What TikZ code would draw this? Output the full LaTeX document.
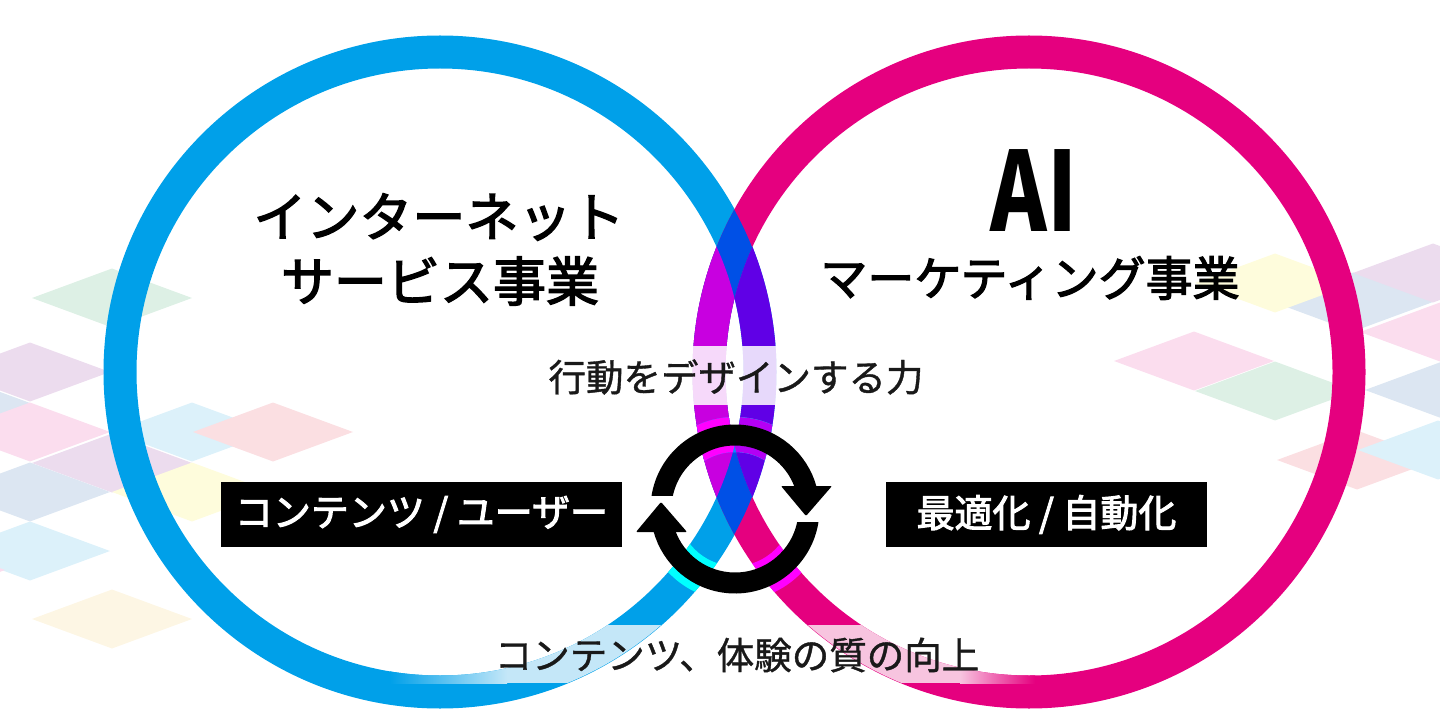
\documentclass[tikz,border=0pt]{standalone}
\usepackage{fontspec}
\usepackage{graphicx}
\setmainfont{Noto Sans CJK JP}
\newfontfamily\headfont[FakeBold=2.6]{Noto Sans CJK JP}
\newfontfamily\subfont[FakeBold=1]{Noto Sans CJK JP}
\usetikzlibrary{positioning}
\definecolor{ringblue}{HTML}{00A0E9}
\definecolor{ringpink}{HTML}{E5007F}
\definecolor{deepblue}{HTML}{0050E6}
\definecolor{armmagenta}{HTML}{C800E0}
\definecolor{armviolet}{HTML}{6000E6}
\definecolor{glowcyan}{HTML}{00FFFF}
\definecolor{glowpink}{HTML}{FF00FF}
\definecolor{glowviolet}{HTML}{B400F4}
\definecolor{glowblue}{HTML}{0090FF}
\definecolor{paleblue}{HTML}{C4E7F8}
\definecolor{palepink}{HTML}{F7C4DF}
\definecolor{dgreen}{HTML}{DDF0E5}
\definecolor{dpurple}{HTML}{ECDCEE}
\definecolor{dslate}{HTML}{DCE6F2}
\definecolor{dpink}{HTML}{FBDDEE}
\definecolor{dsky}{HTML}{DCF1FA}
\definecolor{dsalmon}{HTML}{FBDFE2}
\definecolor{dyellow}{HTML}{FEFCDC}
\definecolor{dcream}{HTML}{FDF6E4}
\newcommand{\fsize}[1]{\fontsize{#1}{#1}\selectfont}
% the two rings and the parts where they meet
\newcommand{\ringbands}[5]{
  \draw[band,#1] (ringl) circle (320);
  \draw[band,#2] (ringr) circle (320);
  \begin{scope}
    \clip (ringl) circle (336);
    \draw[band,#3] (ringr) circle (320);
  \end{scope}
  \begin{scope}
    \clip (ringl) circle (303.5);
    \draw[band,#4] (ringr) circle (320);
  \end{scope}
  \begin{scope}
    \clip (ringr) circle (303.5);
    \draw[band,#5] (ringl) circle (320);
  \end{scope}
}
\tikzset{
  band/.style={line width=33pt},
  turn/.style={line width=21pt,black},
  turnhead/.style={fill=black,rounded corners=1pt},
  headtext/.style={font=\headfont\fsize{53},text=black,inner sep=0pt},
  subtext/.style={font=\subfont\fsize{37.5},text=black!90,inner sep=0pt},
  tagbox/.style={fill=black,text=white,font=\headfont\fsize{38},inner sep=0pt,
    minimum height=65pt}
}
\begin{document}
\begin{tikzpicture}[x=1pt,y=-1pt]
  \useasboundingbox (0,0) rectangle (1440,727);
  % background tiles
  \foreach \x/\y/\c in
    {112/298/dgreen, 30/372/dpurple, -50/403/dslate, 30/432/dpink,
     192/432/dsky, 273/432/dsalmon, 112/463/dpurple, 192/492/dyellow,
     30/492/dslate, 30/551/dsky, 112/619/dcream, -75/570/dpink,
     1353/302/dslate, 1275/283/dyellow, 1433/273/dpurple, 1440/332/dpink,
     1194/361/dpink, 1275/391/dgreen, 1445/390/dslate, 1357/460/dsalmon,
     1438/450/dsky}
  {
    \fill[\c] (\x-80,\y) -- ++(80,-29.5) -- ++(80,29.5) -- ++(-80,29.5) -- cycle;
  }
  \coordinate (ringl) at (440,372);
  \coordinate (ringr) at (1029,372);
  \coordinate (turnc) at (735,509);
  \ringbands{ringblue}{ringpink}{deepblue}{armmagenta}{armviolet}
  % washed out strip behind the middle label
  \fill[white,opacity=.85] (690,346) rectangle (780,405);
  % washed out strips behind the bottom label
  \begin{scope}[even odd rule]
    \clip (ringl) circle (336) (ringl) circle (303.5);
    \shade[left color=ringblue,right color=paleblue] (390,625) rectangle (507,683);
    \fill[paleblue] (507,625) rectangle (700,683);
  \end{scope}
  \begin{scope}[even odd rule]
    \clip (ringr) circle (336) (ringr) circle (303.5);
    \fill[palepink] (750,625) rectangle (960,683);
    \shade[left color=palepink,right color=ringpink] (960,625) rectangle (1035,683);
  \end{scope}
  % glow along the turning arrows
  \begin{scope}[even odd rule]
    \clip (turnc) circle (92) (turnc) circle (57);
    \ringbands{glowcyan}{glowpink}{glowblue}{glowpink}{glowviolet}
  \end{scope}
  % turning arrows
  \begin{scope}
    \clip (640,400) rectangle (840,495);
    \draw[turn] (turnc) ++(185:74) arc[start angle=185,end angle=345,radius=74];
  \end{scope}
  \fill[turnhead] (781,486) -- (832,486) -- (806,516) -- cycle;
  \begin{scope}
    \clip (630,522) rectangle (840,600);
    \draw[turn] (turnc) ++(5:74) arc[start angle=5,end angle=165,radius=74];
  \end{scope}
  \fill[turnhead] (636,532) -- (687,532) -- (661,502) -- cycle;
  % labels
  \node[headtext] (netline) at (439,217) {インターネット};
  \node[headtext] (svcline) at (440,281) {サービス事業};
  \node[inner sep=0pt,font=\bfseries] (ailabel) at (1034,191)
    {\scalebox{.78}[1]{\fsize{110}AI}};
  \node[headtext,font=\headfont\fsize{47}] (mktline) at (1030,278) {マーケティング事業};
  \node[subtext] (designlabel) at (736,377) {行動をデザインする力};
  \node[tagbox,minimum width=401pt] (contenttag) at (421.5,514.5) {コンテンツ / ユーザー};
  \node[tagbox,minimum width=321pt] (autotag) at (1046.5,514.5) {最適化 / 自動化};
  \node[subtext] (qualitylabel) at (737,655) {コンテンツ、体験の質の向上};
\end{tikzpicture}
\end{document}
